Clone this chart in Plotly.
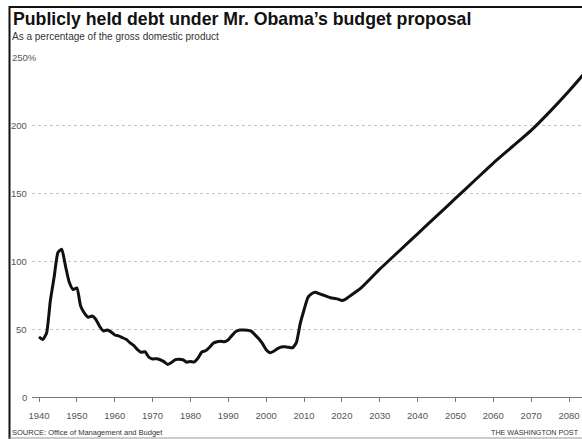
import plotly.graph_objects as go

# ---- data (percent of GDP) ----
years = list(range(1940, 2022)) + [2022, 2025, 2030, 2035, 2040, 2045, 2050, 2055, 2060, 2065, 2070, 2075, 2080, 2085]
debt = [44.2, 42.3, 47.0, 70.9, 88.3, 106.2, 108.7, 96.2, 84.3, 79.0,
        80.2, 66.9, 61.6, 58.6, 59.5, 57.2, 52.0, 48.6, 49.2, 47.9,
        45.6, 45.0, 43.7, 42.4, 40.0, 37.9, 34.9, 32.9, 33.3, 29.3,
        28.0, 28.1, 27.4, 26.0, 23.9, 25.3, 27.5, 27.8, 27.4, 25.6,
        26.1, 25.8, 28.7, 33.1, 34.0, 36.4, 39.5, 40.6, 41.0, 40.6,
        42.1, 45.3, 48.1, 49.3, 49.2, 49.1, 48.4, 45.9, 43.0, 39.4,
        34.7, 32.5, 33.6, 35.6, 36.8, 36.9, 36.5, 36.2, 40.2, 54.0,
        64.0, 73.0, 76.0, 77.0, 76.0, 75.0, 74.0, 73.0, 72.5, 72.0,
        71.0, 72.0,
        74.0, 80.0, 94.0, 107.0, 120.0, 133.0, 146.0, 159.0, 172.0, 184.0, 196.0, 210.0, 225.0, 241.0]
x_ticks = list(range(1940, 2081, 10))
y_ticks = [0, 50, 100, 150, 200, 250]
y_labels = ["0", "50", "100", "150", "200", "250%"]

title = "Publicly held debt under Mr. Obama\u2019s budget proposal"
subtitle = "As a percentage of the gross domestic product"
source = "SOURCE: Office of Management and Budget"
credit = "THE WASHINGTON POST"

W, H = 582, 439
L, R, T, B = 32, 0, 57, 42
PW, PH = W - L - R, H - T - B

def px(x):
    return (x - L) / PW

def py(y):
    return (H - B - y) / PH

FONT = "Liberation Sans, Arial, sans-serif"

fig = go.Figure()
fig.add_trace(go.Scatter(x=years, y=debt, mode="lines",
                         line=dict(color="#111", width=3, shape="spline", smoothing=0.5),
                         hoverinfo="skip"))

annotations = []
for v, lab in zip(y_ticks, y_labels):
    if lab.endswith("%"):
        annotations.append(dict(x=px(10), y=v, xref="paper", yref="y", text=lab,
                                showarrow=False, xanchor="left", yanchor="middle",
                                font=dict(family=FONT, size=9.5, color="#555")))
    else:
        annotations.append(dict(x=0, y=v, xref="paper", yref="y", text=lab,
                                showarrow=False, xanchor="right", yanchor="middle", xshift=-3,
                                font=dict(family=FONT, size=9.5, color="#555")))

annotations += [
    dict(x=px(11), y=py(19), xref="paper", yref="paper", text="<b>" + title + "</b>",
         showarrow=False, xanchor="left", yanchor="middle",
         font=dict(family=FONT, size=17.7, color="#111")),
    dict(x=px(10), y=py(36), xref="paper", yref="paper", text=subtitle,
         showarrow=False, xanchor="left", yanchor="middle",
         font=dict(family=FONT, size=10, color="#333")),
    dict(x=px(10), y=py(432), xref="paper", yref="paper", text=source,
         showarrow=False, xanchor="left", yanchor="middle",
         font=dict(family=FONT, size=7.5, color="#333")),
    dict(x=px(581), y=py(432), xref="paper", yref="paper", text=credit,
         showarrow=False, xanchor="right", yanchor="middle",
         font=dict(family=FONT, size=7.2, color="#333")),
]

shapes = [
    dict(type="line", xref="paper", yref="paper", x0=px(9.5), x1=px(9.5), y0=py(6), y1=py(439),
         line=dict(color="#111", width=2)),
    dict(type="line", xref="paper", yref="paper", x0=px(9), x1=px(582), y0=py(7), y1=py(7),
         line=dict(color="#111", width=2)),
    dict(type="line", xref="paper", yref="paper", x0=px(9), x1=px(582), y0=py(438), y1=py(438),
         line=dict(color="#999", width=1)),
]

fig.update_layout(
    width=W, height=H,
    margin=dict(l=L, r=R, t=T, b=B, pad=0),
    paper_bgcolor="white", plot_bgcolor="white",
    showlegend=False,
    annotations=annotations,
    shapes=shapes,
    xaxis=dict(range=[1938.15, 2083.43], tickvals=x_ticks, ticks="outside", ticklen=4,
               tickcolor="#777", showline=True, linecolor="#777", linewidth=1,
               showgrid=False, zeroline=False, ticklabelstandoff=6,
               tickfont=dict(family=FONT, size=9.5, color="#555")),
    yaxis=dict(range=[0, 250], tickvals=y_ticks, showticklabels=False,
               showgrid=True, gridcolor="#c4c4c4", griddash="dot", gridwidth=1,
               zeroline=False, showline=False),
)

fig.write_html("out.html")
